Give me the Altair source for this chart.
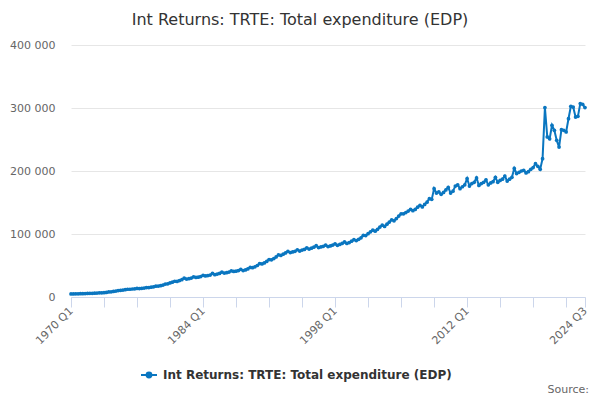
import altair as alt
import pandas as pd

TITLE = "Int Returns: TRTE: Total expenditure (EDP)"
BLUE = "#0a76c0"
FONT = "DejaVu Sans"

# Quarterly values, Q1..Q4 per year
vals_1970s = [4800, 4900, 5000, 5100, 5300, 5300, 5400, 5600, 5900, 5900,
              6100, 6300, 6700, 6700, 6900, 7200, 8000, 8300, 8800, 9400,
              10300, 10600, 11000, 11600, 12300, 12300, 12700, 13000, 13500, 13300,
              13700, 14200, 14900, 15000, 15500, 16200, 17200, 17300, 18000, 19000]
vals_1980s = [20500, 21000, 22300, 23500, 25000, 24800, 26000, 27500, 30000, 28500,
              29000, 30000, 32000, 31000, 31500, 32500, 34500, 33500, 34000, 34800,
              37500, 35500, 36500, 37500, 39500, 38000, 38500, 39500, 41500, 40500,
              41000, 42000, 44000, 42000, 43000, 44500, 47000, 46500, 48000, 50000]
vals_1990s = [53000, 52500, 54000, 56500, 59500, 59000, 61000, 63500, 67000, 66000,
              68000, 70000, 72500, 70500, 71500, 72500, 75000, 73000, 74500, 75500,
              78000, 76000, 77500, 79000, 81500, 78500, 79500, 80500, 82500, 80000,
              81000, 82500, 84500, 82000, 83500, 85000, 87500, 85000, 86500, 88500]
vals_2000s = [91000, 89500, 91500, 94000, 98000, 97500, 100500, 103500, 106000, 104500,
              107500, 111000, 114000, 112000, 115500, 119000, 122500, 121000, 124500, 128500,
              132000, 132000, 134000, 136500, 139000, 137000, 139000, 142500, 145500, 143000,
              147000, 150500, 156000, 155000, 172000, 165000, 167000, 163000, 166000, 170000]
vals_2010s = [174000, 165000, 168000, 176000, 178000, 172000, 175000, 178000, 188000, 176000,
              180000, 182000, 189000, 177000, 180000, 182000, 186000, 178000, 181000, 183000,
              190000, 182000, 185000, 187000, 192000, 184000, 187000, 190000, 204000, 196000,
              198000, 200000, 201000, 197000, 199000, 202700, 205400, 211700, 207400, 202700]
vals_2020s = [219600, 300600, 254000, 251000, 272500, 264500, 248700, 238000, 265500, 264500,
              262000, 283000, 302600, 301500, 285700, 286800, 307000, 305800, 300600]

values = vals_1970s + vals_1980s + vals_1990s + vals_2000s + vals_2010s + vals_2020s
quarters = [f"{y} Q{q}" for y in range(1970, 2025) for q in range(1, 5)][: len(values)]

labelled = ["1970 Q1", "1984 Q1", "1998 Q1", "2012 Q1", "2024 Q3"]
tick_quarters = quarters[::14] + [quarters[-1]]

df = pd.DataFrame({"quarter": quarters, "value": values, "series": TITLE})

label_list = "[" + ",".join(f"'{q}'" for q in labelled) + "]"

line = (
    alt.Chart(df)
    .mark_line(
        strokeWidth=2,
        point=alt.OverlayMarkDef(filled=True, size=14, color=BLUE),
    )
    .encode(
        x=alt.X(
            "quarter:O",
            sort=None,
            title=None,
            scale=alt.Scale(type="point", padding=0),
            axis=alt.Axis(
                values=tick_quarters,
                labelExpr=f"indexof({label_list}, datum.value) >= 0 ? datum.value : ''",
                labelAngle=-45,
                labelAlign="right",
                labelBaseline="middle",
                labelPadding=2,
                labelFontSize=11,
                labelColor="#666666",
                labelFont=FONT,
                tickSize=10,
                tickColor="#ccd6eb",
                domainColor="#ccd6eb",
                grid=False,
            ),
        ),
        y=alt.Y(
            "value:Q",
            title=None,
            scale=alt.Scale(domain=[0, 400000], nice=False),
            axis=alt.Axis(
                values=[0, 100000, 200000, 300000, 400000],
                labelExpr="replace(format(datum.value, ','), ',', ' ')",
                ticks=False,
                domain=False,
                labelPadding=16,
                labelFontSize=11,
                labelColor="#666666",
                labelFont=FONT,
                gridColor="#e6e6e6",
            ),
        ),
        color=alt.Color(
            "series:N",
            scale=alt.Scale(range=[BLUE]),
            legend=alt.Legend(
                title=None,
                orient="none",
                legendX=69,
                legendY=321,
                symbolType="M-1,0H1M-0.3,0a0.3,0.3 0 1,0 0.6,0a0.3,0.3 0 1,0 -0.6,0",
                symbolSize=256,
                symbolStrokeWidth=2,
                symbolFillColor=BLUE,
                symbolStrokeColor=BLUE,
                labelFont=FONT,
                labelFontSize=12,
                labelFontWeight="bold",
                labelColor="#333333",
                labelOffset=5,
                labelLimit=400,
            ),
        ),
    )
)

source = (
    alt.Chart(pd.DataFrame({"t": ["Source:"]}))
    .mark_text(align="right", baseline="alphabetic", font=FONT, fontSize=11, color="#666666")
    .encode(x=alt.value(518), y=alt.value(348), text="t:N")
)

chart = (
    (line + source)
    .properties(
        width=514,
        height=252,
        autosize=alt.AutoSizeParams(type="none"),
        padding={"left": 63, "top": 37, "right": 7, "bottom": 100},
        title=alt.TitleParams(
            TITLE,
            anchor="middle",
            dx=-28,
            offset=11,
            font=FONT,
            fontSize=16,
            fontWeight="normal",
            color="#333333",
        ),
    )
    .configure_view(strokeWidth=0)
)

chart.save("out.html", embed_options={"renderer": "svg", "actions": False})
